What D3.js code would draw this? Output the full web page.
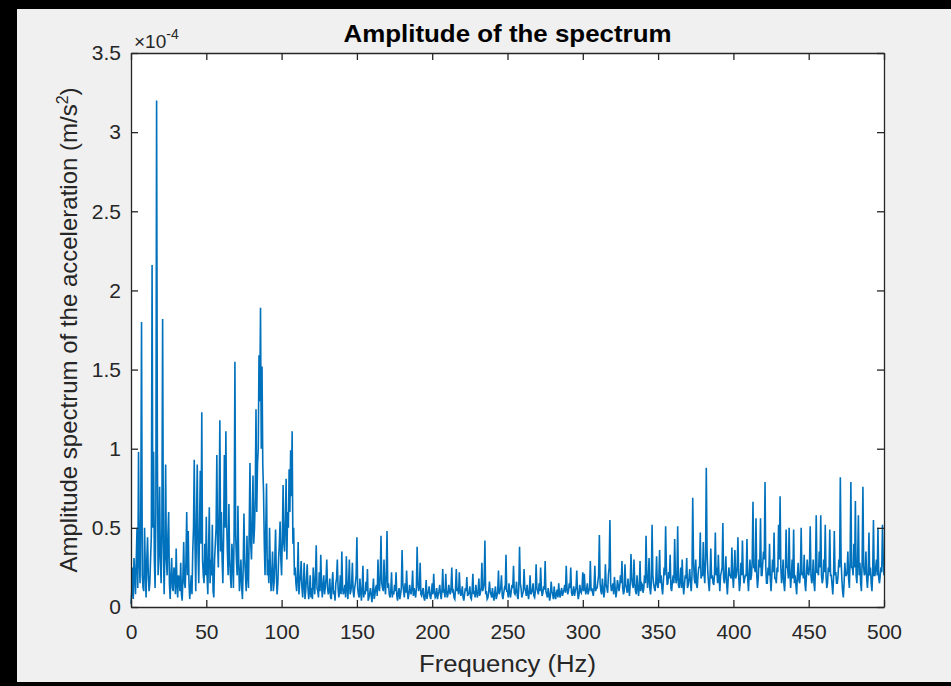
<!DOCTYPE html>
<html>
<head>
<meta charset="utf-8">
<script src="https://cdn.jsdelivr.net/npm/d3@7"></script>
<style>
  html, body { margin: 0; padding: 0; background: #000; }
  svg { display: block; }
  text { font-family: "Liberation Sans", Arial, Helvetica, sans-serif; fill: #262626; }
</style>
</head>
<body>
<div id="chart"></div>
<script>
// amplitude in units of 1e-4 m/s^2, samples at whole Hz (0..500)
var amp = [
  0.02, 0.25, 0.31, 0.08, 0.5, 0.98, 0.15, 1.8, 0.12, 0.5,
  0.06, 0.44, 0.1, 0.3, 2.16, 0.98, 0.12, 3.2, 0.2, 0.76,
  0.15, 1.82, 0.08, 0.9, 0.2, 0.6, 0.05, 0.31, 0.1, 0.22,
  0.37, 0.06, 0.18, 0.28, 0.04, 0.41, 0.12, 0.6, 0.48, 0.05,
  0.2, 0.35, 0.93, 0.1, 0.9, 0.15, 0.86, 1.23, 0.2, 0.4,
  0.57, 0.08, 0.63, 0.3, 0.52, 0.06, 0.4, 0.96, 0.25, 1.18,
  0.6, 0.15, 0.96, 1.11, 0.35, 0.65, 0.2, 0.4, 0.12, 1.55,
  0.3, 0.64, 0.1, 0.3, 0.05, 0.59, 0.2, 0.45, 0.12, 0.91,
  0.3, 0.83, 0.5, 1.25, 0.9, 1.59, 1.89, 1.52, 0.73, 0.2,
  0.78, 0.3, 0.5, 0.1, 0.35, 0.15, 0.49, 0.08, 0.3, 0.54,
  0.2, 0.77, 0.35, 0.81, 0.6, 0.87, 0.99, 1.11, 0.5, 0.25,
  0.1, 0.41, 0.15, 0.29, 0.06, 0.28, 0.1, 0.27, 0.05, 0.2,
  0.12, 0.25, 0.08, 0.39, 0.1, 0.22, 0.33, 0.06, 0.2, 0.12,
  0.3, 0.08, 0.18, 0.05, 0.22, 0.1, 0.15, 0.3, 0.06, 0.2,
  0.35, 0.08, 0.14, 0.32, 0.05, 0.3, 0.1, 0.28, 0.06, 0.15,
  0.44, 0.08, 0.18, 0.04, 0.26, 0.1, 0.16, 0.24, 0.06, 0.12,
  0.03, 0.18, 0.08, 0.14, 0.3, 0.1, 0.45, 0.12, 0.3, 0.08,
  0.48, 0.15, 0.06, 0.22, 0.1, 0.14, 0.22, 0.04, 0.12, 0.08,
  0.36, 0.1, 0.15, 0.23, 0.05, 0.14, 0.08, 0.23, 0.12, 0.06,
  0.38, 0.1, 0.28, 0.07, 0.12, 0.04, 0.17, 0.08, 0.13, 0.05,
  0.15, 0.21, 0.06, 0.12, 0.08, 0.14, 0.05, 0.24, 0.1, 0.21,
  0.06, 0.14, 0.08, 0.25, 0.1, 0.05, 0.24, 0.12, 0.22, 0.07,
  0.13, 0.04, 0.12, 0.19, 0.08, 0.13, 0.05, 0.21, 0.1, 0.14,
  0.06, 0.18, 0.09, 0.28, 0.12, 0.42, 0.1, 0.06, 0.16, 0.08,
  0.12, 0.04, 0.13, 0.07, 0.23, 0.1, 0.2, 0.05, 0.12, 0.33,
  0.1, 0.15, 0.06, 0.14, 0.26, 0.08, 0.16, 0.05, 0.38, 0.12,
  0.08, 0.24, 0.1, 0.14, 0.05, 0.2, 0.09, 0.15, 0.06, 0.27,
  0.1, 0.15, 0.25, 0.07, 0.13, 0.29, 0.08, 0.12, 0.04, 0.16,
  0.08, 0.13, 0.05, 0.11, 0.15, 0.06, 0.12, 0.09, 0.14, 0.26,
  0.08, 0.15, 0.25, 0.07, 0.13, 0.1, 0.23, 0.05, 0.14, 0.09,
  0.22, 0.21, 0.08, 0.15, 0.1, 0.29, 0.12, 0.07, 0.26, 0.12,
  0.16, 0.455, 0.1, 0.18, 0.06, 0.27, 0.12, 0.2, 0.55, 0.1,
  0.15, 0.19, 0.06, 0.17, 0.1, 0.2, 0.29, 0.08, 0.27, 0.12,
  0.18, 0.07, 0.335, 0.14, 0.3, 0.1, 0.2, 0.07, 0.29, 0.15,
  0.09, 0.2, 0.45, 0.12, 0.31, 0.08, 0.52, 0.15, 0.1, 0.32,
  0.12, 0.36, 0.2, 0.08, 0.25, 0.51, 0.14, 0.22, 0.33, 0.1,
  0.2, 0.43, 0.15, 0.51, 0.12, 0.25, 0.3, 0.08, 0.2, 0.31,
  0.14, 0.24, 0.1, 0.69, 0.18, 0.3, 0.12, 0.25, 0.47, 0.2,
  0.41, 0.15, 0.88, 0.22, 0.1, 0.37, 0.2, 0.14, 0.47, 0.25,
  0.33, 0.1, 0.22, 0.53, 0.15, 0.32, 0.08, 0.25, 0.2, 0.375,
  0.12, 0.36, 0.2, 0.44, 0.1, 0.28, 0.42, 0.15, 0.2, 0.43,
  0.1, 0.3, 0.2, 0.665, 0.25, 0.56, 0.12, 0.3, 0.56, 0.2,
  0.35, 0.79, 0.15, 0.25, 0.4, 0.1, 0.3, 0.47, 0.18, 0.25,
  0.52, 0.7, 0.15, 0.3, 0.1, 0.49, 0.25, 0.5, 0.12, 0.3,
  0.49, 0.2, 0.08, 0.28, 0.15, 0.5, 0.22, 0.33, 0.1, 0.3,
  0.2, 0.51, 0.15, 0.3, 0.1, 0.58, 0.22, 0.35, 0.58, 0.15,
  0.3, 0.52, 0.12, 0.25, 0.49, 0.2, 0.08, 0.48, 0.22, 0.15,
  0.3, 0.82, 0.18, 0.06, 0.28, 0.2, 0.35, 0.12, 0.79, 0.25,
  0.4, 0.67, 0.15, 0.58, 0.28, 0.1, 0.76, 0.2, 0.35, 0.12,
  0.47, 0.25, 0.1, 0.55, 0.2, 0.3, 0.5, 0.15, 0.25, 0.52,
  0.2
];

// amplitude at the half-Hz bins (0.5 .. 499.5 Hz)
var ampHalf = [
  0.1, 0.05, 0.2, 0.3, 0.12, 0.3, 0.6, 0.2, 0.1, 0.25,
  0.3, 0.2, 0.15, 0.45, 0.5, 0.3, 0.6, 1.0, 0.35, 0.3,
  0.5, 0.4, 0.35, 0.3, 0.45, 0.15, 0.2, 0.12, 0.25, 0.08,
  0.15, 0.2, 0.1, 0.08, 0.2, 0.15, 0.3, 0.2, 0.15, 0.12,
  0.08, 0.5, 0.4, 0.55, 0.35, 0.5, 0.4, 0.3, 0.15, 0.2,
  0.2, 0.35, 0.15, 0.2, 0.1, 0.3, 0.5, 0.4, 0.6, 0.35,
  0.3, 0.45, 0.5, 0.55, 0.2, 0.3, 0.12, 0.3, 0.5, 0.45,
  0.2, 0.3, 0.2, 0.12, 0.25, 0.3, 0.1, 0.2, 0.5, 0.4,
  0.55, 0.4, 0.7, 0.6, 1.0, 1.3, 1.0, 0.9, 0.4, 0.5,
  0.2, 0.15, 0.25, 0.2, 0.1, 0.3, 0.2, 0.15, 0.4, 0.3,
  0.45, 0.4, 0.55, 0.3, 0.5, 0.6, 0.7, 0.4, 0.2, 0.15,
  0.2, 0.08, 0.2, 0.12, 0.15, 0.05, 0.18, 0.12, 0.1, 0.06,
  0.05, 0.15, 0.2, 0.12, 0.06, 0.1, 0.15, 0.14, 0.08, 0.18,
  0.12, 0.1, 0.06, 0.15, 0.08, 0.04, 0.18, 0.12, 0.1, 0.08,
  0.12, 0.1, 0.06, 0.12, 0.15, 0.08, 0.14, 0.1, 0.12, 0.2,
  0.12, 0.06, 0.1, 0.12, 0.06, 0.08, 0.1, 0.04, 0.09, 0.07,
  0.1, 0.05, 0.12, 0.07, 0.12, 0.2, 0.15, 0.1, 0.14, 0.2,
  0.12, 0.08, 0.1, 0.06, 0.08, 0.1, 0.07, 0.09, 0.05, 0.12,
  0.15, 0.06, 0.09, 0.1, 0.08, 0.1, 0.12, 0.07, 0.09, 0.12,
  0.15, 0.12, 0.08, 0.1, 0.06, 0.08, 0.05, 0.1, 0.07, 0.09,
  0.08, 0.1, 0.07, 0.05, 0.1, 0.08, 0.11, 0.09, 0.06, 0.1,
  0.08, 0.1, 0.12, 0.09, 0.06, 0.12, 0.1, 0.08, 0.11, 0.09,
  0.06, 0.08, 0.1, 0.07, 0.09, 0.06, 0.1, 0.08, 0.06, 0.09,
  0.1, 0.07, 0.12, 0.1, 0.15, 0.08, 0.05, 0.09, 0.1, 0.06,
  0.07, 0.09, 0.05, 0.1, 0.08, 0.12, 0.07, 0.09, 0.11, 0.1,
  0.06, 0.09, 0.1, 0.12, 0.09, 0.1, 0.07, 0.12, 0.15, 0.06,
  0.1, 0.12, 0.07, 0.09, 0.1, 0.08, 0.11, 0.07, 0.1, 0.12,
  0.08, 0.1, 0.12, 0.09, 0.11, 0.1, 0.06, 0.08, 0.07, 0.1,
  0.05, 0.07, 0.09, 0.06, 0.08, 0.1, 0.07, 0.11, 0.09, 0.12,
  0.1, 0.12, 0.09, 0.1, 0.07, 0.12, 0.09, 0.08, 0.1, 0.12,
  0.1, 0.12, 0.11, 0.08, 0.12, 0.1, 0.09, 0.13, 0.1, 0.12,
  0.2, 0.15, 0.08, 0.12, 0.1, 0.14, 0.09, 0.25, 0.15, 0.12,
  0.08, 0.12, 0.1, 0.14, 0.13, 0.15, 0.12, 0.1, 0.14, 0.09,
  0.12, 0.15, 0.18, 0.12, 0.15, 0.08, 0.13, 0.12, 0.1, 0.14,
  0.12, 0.15, 0.2, 0.18, 0.12, 0.15, 0.2, 0.12, 0.16, 0.14,
  0.18, 0.15, 0.12, 0.16, 0.2, 0.25, 0.15, 0.18, 0.12, 0.16,
  0.15, 0.2, 0.18, 0.14, 0.17, 0.12, 0.15, 0.14, 0.18, 0.12,
  0.18, 0.15, 0.2, 0.3, 0.15, 0.14, 0.2, 0.25, 0.18, 0.2,
  0.22, 0.3, 0.35, 0.15, 0.2, 0.18, 0.15, 0.22, 0.2, 0.15,
  0.18, 0.2, 0.25, 0.18, 0.2, 0.15, 0.17, 0.2, 0.18, 0.2,
  0.22, 0.18, 0.25, 0.2, 0.15, 0.2, 0.22, 0.18, 0.2, 0.18,
  0.2, 0.17, 0.3, 0.25, 0.22, 0.2, 0.18, 0.25, 0.2, 0.28,
  0.3, 0.25, 0.15, 0.2, 0.18, 0.2, 0.22, 0.18, 0.15, 0.22,
  0.3, 0.25, 0.2, 0.15, 0.2, 0.25, 0.18, 0.22, 0.2, 0.18,
  0.15, 0.14, 0.2, 0.17, 0.22, 0.2, 0.18, 0.15, 0.2, 0.22,
  0.25, 0.2, 0.18, 0.15, 0.25, 0.22, 0.2, 0.25, 0.2, 0.18,
  0.22, 0.2, 0.15, 0.22, 0.2, 0.14, 0.18, 0.2, 0.15, 0.2,
  0.25, 0.3, 0.1, 0.15, 0.2, 0.22, 0.18, 0.3, 0.25, 0.2,
  0.25, 0.2, 0.3, 0.2, 0.15, 0.3, 0.25, 0.22, 0.18, 0.2,
  0.2, 0.15, 0.22, 0.2, 0.25, 0.2, 0.18, 0.2, 0.22, 0.3
];
var freqStep = 1; // Hz between whole-Hz samples

var xTicks = [0, 50, 100, 150, 200, 250, 300, 350, 400, 450, 500];
var yTicks = [0, 0.5, 1, 1.5, 2, 2.5, 3, 3.5];

// merge both sample sets in frequency order
var samples = [];
amp.forEach(function(a, i) {
  samples.push({f: i * freqStep, a: a});
  if (i < ampHalf.length) samples.push({f: (i + 0.5) * freqStep, a: ampHalf[i]});
});

var W = 951, H = 686;
var box = {left: 131, right: 884, top: 53, bottom: 607};

var svg = d3.select("#chart")
  .append("svg")
    .attr("width", W)
    .attr("height", H);

// black frame of the screenshot, grey figure background
svg.append("rect")
    .attr("width", W).attr("height", H)
    .attr("fill", "#000");
svg.append("rect")
    .attr("x", 17).attr("y", 9)
    .attr("width", W - 17).attr("height", 682 - 9)
    .attr("fill", "#f0f0f0");

// axes area
svg.append("rect")
    .attr("x", box.left).attr("y", box.top)
    .attr("width", box.right - box.left).attr("height", box.bottom - box.top)
    .attr("fill", "#fff");

var x = d3.scaleLinear().domain([0, 500]).range([box.left, box.right]);
var y = d3.scaleLinear().domain([0, 3.5]).range([box.bottom, box.top]);

// spectrum line
var line = d3.line()
    .x(function(d) { return x(d.f); })
    .y(function(d) { return y(d.a); });

svg.append("path")
    .datum(samples)
    .attr("fill", "none")
    .attr("stroke", "#0072bd")
    .attr("stroke-width", 1.6)
    .attr("d", line);

// axes, ticks pointing inward like matlab
function styleAxis(g) {
  g.selectAll("path.domain").attr("stroke", "#262626").attr("stroke-width", 1.3);
  g.selectAll(".tick line").attr("stroke", "#262626").attr("stroke-width", 1.3);
  g.selectAll(".tick text").attr("fill", "#262626").style("font-size", "21px")
    .attr("font-family", null);
}

svg.append("g")
    .attr("transform", "translate(0," + box.bottom + ")")
    .call(d3.axisBottom(x).tickValues(xTicks).tickSizeInner(-7).tickSizeOuter(0).tickPadding(17))
    .call(styleAxis);

svg.append("g")
    .attr("transform", "translate(0," + box.top + ")")
    .call(d3.axisTop(x).tickValues(xTicks).tickSizeInner(-7).tickSizeOuter(0).tickFormat(""))
    .call(styleAxis);

svg.append("g")
    .attr("transform", "translate(" + box.left + ",0)")
    .call(d3.axisLeft(y).tickValues(yTicks).tickSizeInner(-7).tickSizeOuter(0).tickPadding(10)
      .tickFormat(function(d) { return d; }))
    .call(styleAxis);

svg.append("g")
    .attr("transform", "translate(" + box.right + ",0)")
    .call(d3.axisRight(y).tickValues(yTicks).tickSizeInner(-7).tickSizeOuter(0).tickFormat(""))
    .call(styleAxis);

// exponent
var expo = svg.append("text")
    .attr("x", 134)
    .attr("y", 48)
    .style("font-size", "19px");
expo.append("tspan").text("\u00d710");
expo.append("tspan").attr("dy", -9).style("font-size", "14px").text("-4");

// title
svg.append("text")
    .attr("x", (box.left + box.right) / 2)
    .attr("y", 42)
    .attr("text-anchor", "middle")
    .attr("textLength", 328)
    .attr("lengthAdjust", "spacingAndGlyphs")
    .style("font-size", "24px")
    .style("font-weight", "bold")
    .style("fill", "#000")
    .text("Amplitude of the spectrum");

// x label
svg.append("text")
    .attr("x", (box.left + box.right) / 2)
    .attr("y", 672)
    .attr("text-anchor", "middle")
    .attr("textLength", 177)
    .attr("lengthAdjust", "spacingAndGlyphs")
    .style("font-size", "23.5px")
    .text("Frequency (Hz)");

// y label
var yl = svg.append("text")
    .attr("transform", "translate(77," + (box.top + box.bottom) / 2 + ") rotate(-90)")
    .attr("text-anchor", "middle")
    .style("font-size", "24px");
yl.append("tspan").text("Amplitude spectrum of the acceleration (m/s");
yl.append("tspan").attr("dy", -9).style("font-size", "16px").text("2");
yl.append("tspan").attr("dy", 9).text(")");
</script>
</body>
</html>
